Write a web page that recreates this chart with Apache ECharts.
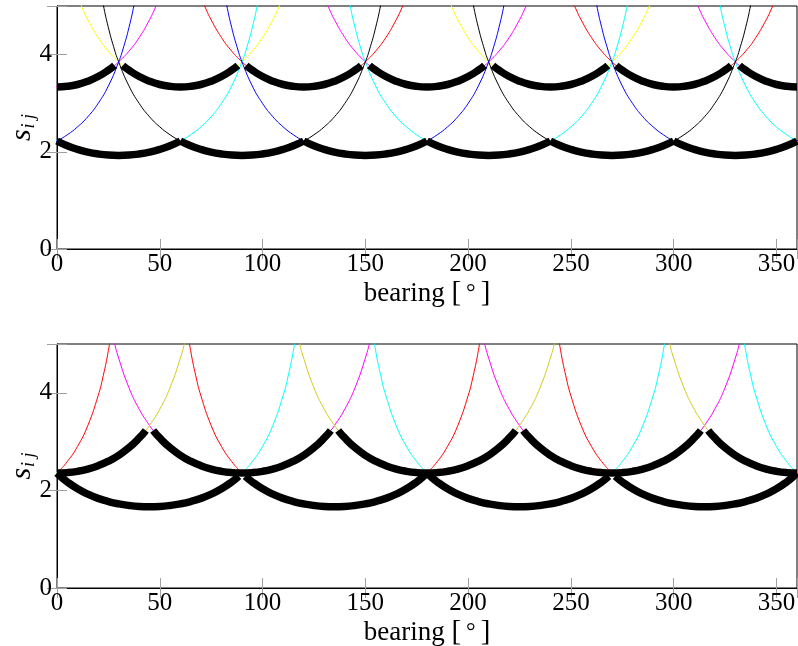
<!DOCTYPE html>
<html><head><meta charset="utf-8">
<script src="https://cdn.jsdelivr.net/npm/echarts@6/dist/echarts.min.js"></script>
<style>html,body{margin:0;padding:0;background:#fff}#c{width:798px;height:646px}</style>
</head><body><div id="c"></div>
<script>
// ---------- data ----------
const xTickLabels = [0, 50, 100, 150, 200, 250, 300, 350];
const yTickLabels = [0, 2, 4];

// Top panel: one curve's shape, offset from its centre bearing (deg) -> s_ij
const topNearOffsets = [0, 5, 10, 15, 20, 25, 30, 35, 40, 45, 50, 55, 60, 62.5, 65, 67.5, 70];
const topNearValues  = [1.925, 1.932, 1.955, 1.993, 2.049, 2.124, 2.223, 2.350, 2.513, 2.722, 2.995, 3.356, 3.850, 4.169, 4.555, 5.030, 5.628];
const topFarOffsets  = [0, 5, 10, 15, 20, 25, 28, 30, 35, 40, 45, 47.5, 50, 52.5];
const topFarValues   = [3.334, 3.347, 3.385, 3.452, 3.548, 3.679, 3.776, 3.850, 4.070, 4.352, 4.715, 4.935, 5.187, 5.477];
// centre bearings of the thin curves (one list per colour)
const topNearCentres = [[30, 210, 390], [-90, 90, 270, 450], [-30, 150, 330]];
const topFarCentres  = [[0, 180, 360], [60, 240], [-60, 120, 300]];
// thick envelope arcs: [centre, from offset, to offset]
const topNearArcs = [[30, -30, 30], [90, -30, 30], [150, -30, 30], [210, -30, 30], [270, -30, 30], [330, -30, 30]];
const topFarArcs  = [[0, 0, 28], [60, -28, 28], [120, -28, 28], [180, -28, 28], [240, -28, 28], [300, -28, 28], [360, -28, 0]];

// Bottom panel
const botNearOffsets = [0, 5, 10, 15, 20, 25, 30, 35, 40, 43.4, 45, 50, 55, 60, 65, 67.5, 70, 72.5];
const botNearValues  = [1.665, 1.671, 1.691, 1.724, 1.772, 1.837, 1.923, 2.033, 2.174, 2.292, 2.355, 2.590, 2.903, 3.330, 3.940, 4.351, 4.868, 5.537];
const botFarOffsets  = [0, 5, 10, 15, 20, 25, 30, 35, 40, 43.2, 45, 50, 55, 60, 62.5, 65];
const botFarValues   = [2.355, 2.364, 2.391, 2.438, 2.506, 2.598, 2.719, 2.875, 3.074, 3.229, 3.330, 3.664, 4.106, 4.710, 5.100, 5.572];
const botNearCentres = [[-45, 135, 315], [45, 225, 405]];
const botFarCentres  = [[90, 270], [0, 180, 360]];
const botNearArcs = [[45, -45, 43.4], [135, -43.4, 45], [225, -45, 43.4], [315, -43.4, 45]];
const botFarArcs  = [[0, 0, 43.2], [90, -43.2, 43.2], [180, -43.2, 43.2], [270, -43.2, 43.2], [360, -43.2, 0]];

// ---------- styling ----------
const topNearColors = ['#00ffff', '#000000', '#0000ff'];
const topFarColors  = ['#ff00ff', '#ffff00', '#ff0000'];
const botNearColors = ['#ff0000', '#00ffff'];
const botFarColors  = ['#ff00ff', '#d4ca1c'];
const FONT = 'Liberation Serif';

function arc(offsets, values, centre, from, to) {
  const pts = [];
  for (let i = offsets.length - 1; i >= 1; i--) {
    const o = -offsets[i];
    if (o >= from - 1e-9 && o <= to + 1e-9) pts.push([centre + o, values[i]]);
  }
  for (let i = 0; i < offsets.length; i++) {
    const o = offsets[i];
    if (o >= from - 1e-9 && o <= to + 1e-9) pts.push([centre + o, values[i]]);
  }
  return pts;
}

const series = [];
function thin(offsets, values, centresList, colors, axis) {
  const m = offsets[offsets.length - 1];
  centresList.forEach((cs, k) => {
    cs.forEach(c => {
      series.push({
        type: 'line', xAxisIndex: axis, yAxisIndex: axis,
        data: arc(offsets, values, c, -m, m),
        smooth: 0.5, showSymbol: false, symbol: 'none', silent: true, clip: true,
        lineStyle: { color: colors[k], width: 1 },
        z: 2
      });
    });
  });
}
function thick(offsets, values, arcs, axis) {
  arcs.forEach(a => {
    series.push({
      type: 'line', xAxisIndex: axis, yAxisIndex: axis,
      data: arc(offsets, values, a[0], a[1], a[2]),
      smooth: 0.5, showSymbol: false, symbol: 'none', silent: true, clip: true,
      lineStyle: { color: '#000', width: 7.5, cap: 'butt' },
      z: 5
    });
  });
}
thin(topFarOffsets, topFarValues, topFarCentres, topFarColors, 0);
thin(topNearOffsets, topNearValues, topNearCentres, topNearColors, 0);
thick(topNearOffsets, topNearValues, topNearArcs, 0);
thick(topFarOffsets, topFarValues, topFarArcs, 0);

thin(botNearOffsets, botNearValues, botNearCentres, botNearColors, 2);
thin(botFarOffsets, botFarValues, botFarCentres, botFarColors, 2);
thick(botNearOffsets, botNearValues, botNearArcs, 2);
thick(botFarOffsets, botFarValues, botFarArcs, 2);

const tickStyle = { show: true, inside: true, length: 10, lineStyle: { color: '#a0a0a0', width: 1 } };
function xMain(g) {
  return {
    type: 'value', gridIndex: g, min: 0, max: 360, interval: 50, position: 'bottom',
    axisLine: { show: true, onZero: false, lineStyle: { color: '#000', width: 1 } },
    axisTick: tickStyle, splitLine: { show: false },
    axisLabel: { show: true, fontFamily: FONT, fontSize: 25, color: '#000', margin: 3,
      formatter: v => (xTickLabels.indexOf(v) >= 0 ? String(v) : '') },
    name: '{t|bearing }{b|[}{d|°}{b|]}', nameLocation: 'middle', nameGap: 30,
    nameMoveOverlap: false,
    nameTextStyle: {
      rich: {
        t: { fontFamily: FONT, fontSize: 27, color: '#000' },
        b: { fontFamily: FONT, fontSize: 29, color: '#000' },
        d: { fontFamily: FONT, fontSize: 24, color: '#000', padding: [0, 5, 0, 5] }
      }
    }
  };
}
function xTop(g) {
  return {
    type: 'value', gridIndex: g, min: 0, max: 360, interval: 50, position: 'top',
    axisLine: { show: false }, axisTick: tickStyle, axisLabel: { show: false }, splitLine: { show: false }
  };
}
function yMain(g) {
  return {
    type: 'value', gridIndex: g, min: 0, max: 5, interval: 2, position: 'left',
    axisLine: { show: true, onZero: false, lineStyle: { color: '#000', width: 1 } },
    axisTick: tickStyle, splitLine: { show: false },
    axisLabel: { show: true, fontFamily: FONT, fontSize: 25, color: '#000', margin: 5,
      formatter: v => (yTickLabels.indexOf(v) >= 0 ? String(v) : '') },
    name: '{s|s}{sub|i j}', nameLocation: 'middle', nameRotate: 90, nameGap: 19,
    nameMoveOverlap: false,
    nameTextStyle: {
      rich: {
        s: { fontFamily: FONT, fontStyle: 'italic', fontSize: 30, color: '#000', lineHeight: 32, verticalAlign: 'middle' },
        sub: { fontFamily: FONT, fontStyle: 'italic', fontSize: 18, color: '#000', lineHeight: 32, verticalAlign: 'bottom', padding: [10, 0, 0, 1] }
      }
    }
  };
}
function yRight(g) {
  return {
    type: 'value', gridIndex: g, min: 0, max: 5, interval: 2, position: 'right',
    axisLine: { show: false }, axisTick: tickStyle, axisLabel: { show: false }, splitLine: { show: false }
  };
}

const chart = echarts.init(document.getElementById('c'), null, { renderer: 'canvas' });
chart.setOption({
  animation: false,
  backgroundColor: '#fff',
  grid: [
    { left: 57, right: 1, top: 6, height: 243, show: true, borderColor: '#000', borderWidth: 1, backgroundColor: 'transparent', containLabel: false, outerBoundsMode: 'none' },
    { left: 57, right: 1, top: 344, height: 244, show: true, borderColor: '#000', borderWidth: 1, backgroundColor: 'transparent', containLabel: false, outerBoundsMode: 'none' }
  ],
  xAxis: [xMain(0), xTop(0), xMain(1), xTop(1)],
  yAxis: [yMain(0), yRight(0), yMain(1), yRight(1)],
  series: series
});
</script></body></html>
